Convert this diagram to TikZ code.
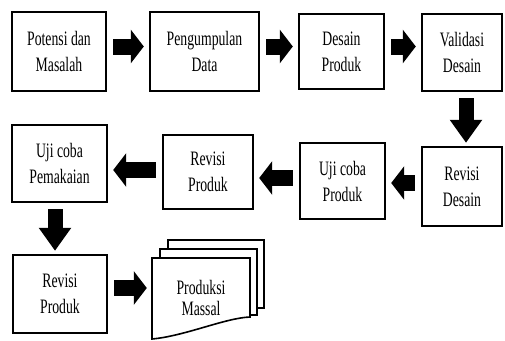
\documentclass[tikz,border=0pt]{standalone}
\usepackage{fontspec}
\setmainfont[FakeStretch=0.67]{Liberation Serif}
\usepackage{tikz}
\usetikzlibrary{positioning, calc, arrows.meta}

\begin{document}
\begin{tikzpicture}[
      x=1pt, y=-1pt,
      box/.style={draw, line width=2.4pt, align=center, font=\fontsize{20.5}{26}\selectfont},
      page/.style={draw, line width=1.6pt, fill=white},
      harrow/.style={line width=16pt, -{Triangle[length=13pt, width=33pt]}, shorten <=6pt, shorten >=5pt},
      varrow/.style={line width=15pt, -{Triangle[length=23pt, width=31pt]}, shorten <=6pt, shorten >=3pt}
    ]
    \useasboundingbox (0,0) rectangle (505,340);

    % Top row (Left to right)
    \node[box, minimum width=94pt, minimum height=79pt] (potensi) at (59,51.5) {Potensi dan\\Masalah};
    \node[box, minimum width=109pt, minimum height=79pt] (data) at (204.5,51.5) {Pengumpulan\\Data};
    \node[box, minimum width=85pt, minimum height=75pt] (desain) at (341.5,51.5) {Desain\\Produk};
    \node[box, minimum width=80pt, minimum height=77pt] (validasi) at (462,52.5) {Validasi\\Desain};

    % Middle row (Right to left)
    \node[box, minimum width=80pt, minimum height=79pt] (revdesain) at (462,186.5) {Revisi\\Desain};
    \node[box, minimum width=85pt, minimum height=76pt] (ujiproduk) at (342.5,181) {Uji coba\\Produk};
    \node[box, minimum width=90pt, minimum height=74pt] (revproduk) at (208,172) {Revisi\\Produk};
    \node[box, minimum width=95pt, minimum height=77pt] (ujipakai) at (59.5,163.5) {Uji coba\\Pemakaian};

    % Bottom row
    \node[box, minimum width=94pt, minimum height=78pt] (revakhir) at (60,294) {Revisi\\Produk};

    % Stacked pages
    \draw[page] (168,240) rectangle (264,308);
    \draw[page] (160,249) rectangle (257,315);
    \draw[page] (152,258) -- (250,258) -- (250,317) .. controls (225,318) and (185,336) .. (152,339) -- cycle;
    \node[align=center, font=\fontsize{20.5}{21}\selectfont, minimum width=98pt, minimum height=60pt] (massal) at (201,298) {Produksi\\Massal};

    % Flow
    \draw[harrow] ([yshift=5pt]potensi.east) -- ([yshift=5pt]potensi.east -| data.west);
    \draw[harrow] ([yshift=5pt]data.east) -- ([yshift=5pt]data.east -| desain.west);
    \draw[harrow] ([yshift=5pt]desain.east) -- ([yshift=5pt]desain.east -| validasi.west);
    \draw[varrow] ([xshift=4pt]validasi.south) -- ([xshift=4pt]validasi.south |- revdesain.north);
    \draw[harrow] ([yshift=3.5pt]revdesain.west) -- ([yshift=3.5pt]revdesain.west -| ujiproduk.east);
    \draw[harrow] ([yshift=3pt]ujiproduk.west) -- ([yshift=3pt]ujiproduk.west -| revproduk.east);
    \draw[harrow] ([yshift=2pt]revproduk.west) -- ([yshift=2pt]revproduk.west -| ujipakai.east);
    \draw[varrow] ([xshift=-4.5pt]ujipakai.south) -- ([xshift=-4.5pt]ujipakai.south |- revakhir.north);
    \draw[harrow] ([yshift=6pt]revakhir.east) -- ([yshift=6pt]revakhir.east -| massal.west);

  \end{tikzpicture}
\end{document}
